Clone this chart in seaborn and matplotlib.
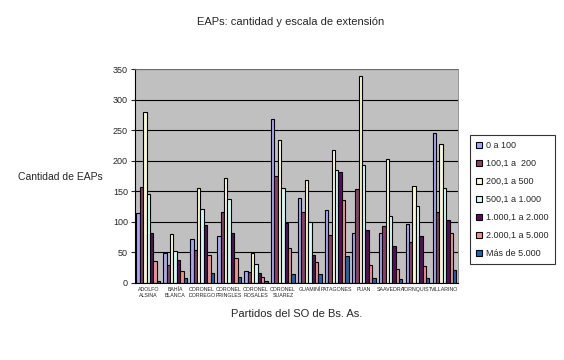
import pandas as pd
import seaborn as sns
from matplotlib import pyplot as plt

# partidos del sudoeste bonaerense
partidos = ['ADOLFO\nALSINA', 'BAHÍA\nBLANCA', 'CORONEL\nDORREGO', 'CORONEL\nPRINGLES',
            'CORONEL\nROSALES', 'CORONEL\nSUAREZ', 'GUAMINÍ', 'PATAGONES', 'PUAN',
            'SAAVEDRA', 'TORNQUIST', 'VILLARINO']
escalas = ['0 a 100', '100,1 a  200', '200,1 a 500', '500,1 a 1.000',
           '1.000,1 a 2.000', '2.000,1 a 5.000', 'Más de 5.000']

# cantidad de EAPs por escala (mismo orden que partidos)
e_0_100 = [114, 49, 72, 76, 19, 268, 138, 119, 82, 81, 96, 245]
e_100_200 = [156, 29, 54, 115, 17, 175, 115, 78, 154, 92, 67, 115]
e_200_500 = [280, 80, 155, 172, 49, 233, 169, 217, 338, 202, 159, 227]
e_500_1000 = [146, 51, 120, 137, 31, 155, 100, 184, 192, 110, 126, 155]
e_1000_2000 = [81, 37, 95, 82, 15, 98, 46, 181, 86, 60, 76, 102]
e_2000_5000 = [36, 19, 46, 40, 10, 57, 34, 136, 29, 23, 27, 82]
e_mas_5000 = [3, 7, 15, 10, 3, 14, 14, 44, 8, 6, 8, 20]

series = [e_0_100, e_100_200, e_200_500, e_500_1000, e_1000_2000, e_2000_5000, e_mas_5000]
colores = ['#9999FF', '#993366', '#FFFFCC', '#CCFFFF', '#660066', '#FF8080', '#0066CC']

rows = []
for esc, vals in zip(escalas, series):
    for p, v in zip(partidos, vals):
        rows.append({'partido': p, 'escala': esc, 'eaps': v})
df = pd.DataFrame(rows)

sns.set_style('white')
plt.rcParams['font.family'] = ['Liberation Sans', 'DejaVu Sans']

fig = plt.figure(figsize=(5.64, 3.6), dpi=100)
ax = fig.add_axes([0.239, 0.215, 0.573, 0.593])
ax.set_facecolor('#C0C0C0')

sns.barplot(data=df, x='partido', y='eaps', hue='escala', order=partidos,
            hue_order=escalas, palette=colores, width=0.88, edgecolor='black',
            linewidth=0.8, ax=ax, legend=True)

ax.set_ylim(0, 350)
ax.set_yticks(range(0, 351, 50))
ax.yaxis.grid(True, color='black', linewidth=0.8)
ax.set_axisbelow(True)
for s in ['top', 'right']:
    ax.spines[s].set_color('#808080')
    ax.spines[s].set_linewidth(0.6)
ax.spines['left'].set_color('black')
ax.spines['bottom'].set_color('black')

ax.tick_params(axis='y', labelsize=6.5, length=3, direction='out', left=True, pad=2)
ax.tick_params(axis='x', labelsize=3.8, length=3, direction='out', bottom=True, pad=3)
ax.set_xticks([i + 0.5 for i in range(-1, len(partidos))], minor=True)
ax.tick_params(axis='x', which='major', length=0)
ax.tick_params(axis='x', which='minor', length=4, color='black')

ax.set_xlabel('Partidos del SO de Bs. As.', fontsize=8, labelpad=8)
ax.set_ylabel('')
fig.text(0.032, 1 - 177 / 360, 'Cantidad de EAPs', fontsize=7.5, va='center')
fig.text(0.515, 1 - 22 / 360, 'EAPs: cantidad y escala de extensión', fontsize=8, ha='center', va='center')

handles, labels = ax.get_legend_handles_labels()
leg = ax.legend(handles, labels, loc='upper left', bbox_to_anchor=(465 / 564, 1 - 130 / 360),
                bbox_transform=fig.transFigure, fontsize=6.5, frameon=True, fancybox=False,
                edgecolor='black', handlelength=0.7, handleheight=0.7, handletextpad=0.4,
                labelspacing=1.0, borderpad=0.7)
leg.get_frame().set_linewidth(0.8)

fig.savefig('out.png', dpi=100)
